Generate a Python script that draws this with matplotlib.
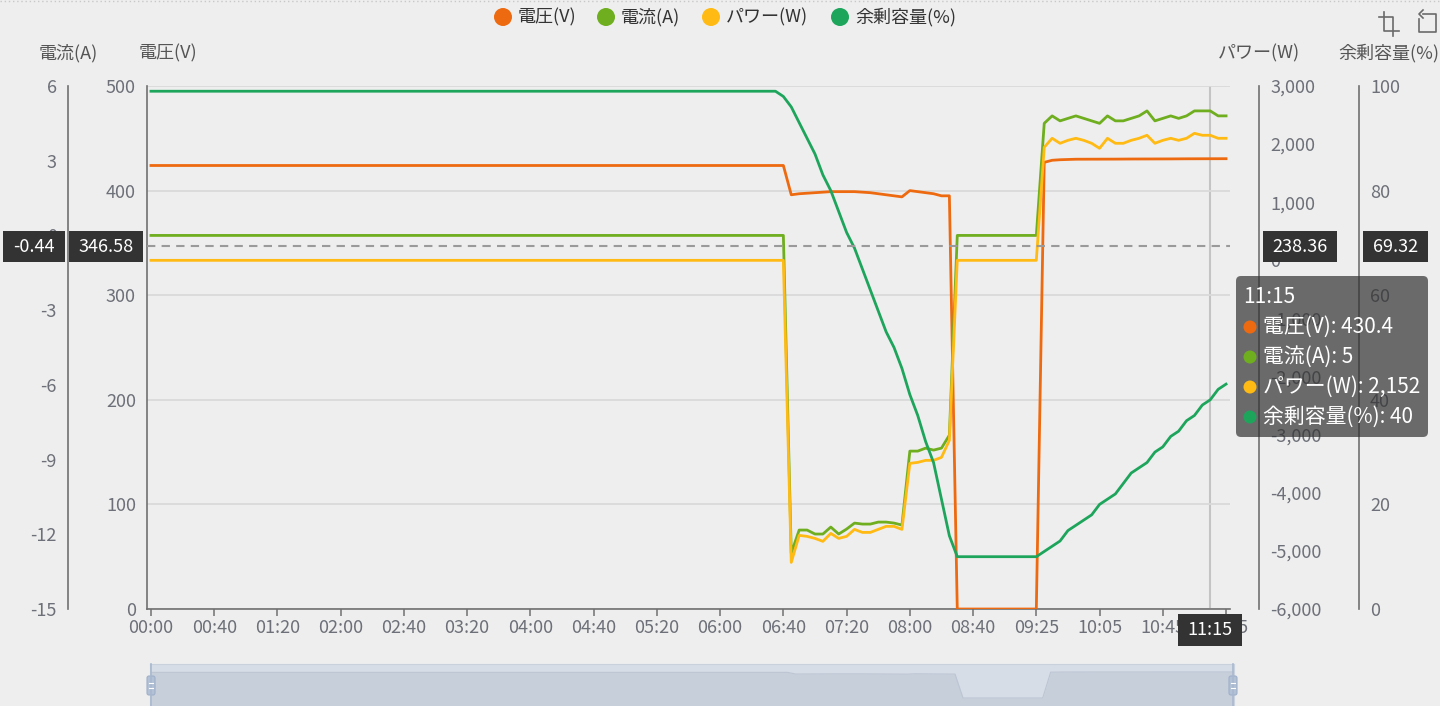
import matplotlib
matplotlib.use("Agg")
import matplotlib.pyplot as plt
from matplotlib.patches import FancyBboxPatch, Rectangle, Circle
import numpy as np

plt.rcParams['font.family'] = ['Noto Sans CJK JP', 'DejaVu Sans']
plt.rcParams['axes.unicode_minus'] = False

# ---------------- data ----------------
# category times (5-minute log, one missing record between 08:40 and 09:25)
minutes = list(range(0, 8 * 60 + 41, 5)) + [525, 530, 535, 540, 545, 550, 560, 565] + list(range(570, 11 * 60 + 26, 5))
times = [f"{m // 60:02d}:{m % 60:02d}" for m in minutes]
tick_labels = ["00:00", "00:40", "01:20", "02:00", "02:40", "03:20", "04:00", "04:40", "05:20",
               "06:00", "06:40", "07:20", "08:00", "08:40", "09:25", "10:05", "10:45", "11:25"]

voltage = ([424.0] * 81 +
           [396, 397, 397.5, 398, 398.5, 399, 399, 399, 399, 398.5, 398, 397, 396, 395, 394,
            400, 399, 398, 397, 395, 395] +
           [0] * 11 +
           [427, 429, 429.5, 429.8, 430, 430, 430, 430.1, 430.1, 430.1, 430.2, 430.2, 430.2,
            430.3, 430.3, 430.3, 430.3, 430.4, 430.4, 430.4, 430.4, 430.4, 430.5, 430.5])

current = ([0.0] * 81 +
           [-12.76, -11.83, -11.83, -11.99, -11.99, -11.71, -11.99, -11.79, -11.55, -11.59, -11.59,
            -11.51, -11.51, -11.55, -11.63, -8.66, -8.66, -8.54, -8.62, -8.54, -8.02] +
           [0.0] * 11 +
           [4.5, 4.8, 4.6, 4.7, 4.8, 4.7, 4.6, 4.5, 4.8, 4.6, 4.6, 4.7, 4.8, 5.0, 4.6, 4.7,
            4.8, 4.7, 4.8, 5.0, 5.0, 5.0, 4.8, 4.8])

power = ([0] * 81 +
         [-5198, -4733, -4750, -4785, -4836, -4699, -4785, -4750, -4630, -4682, -4682,
          -4630, -4578, -4578, -4630, -3494, -3477, -3442, -3442, -3391, -3098] +
         [0] * 11 +
         [1945, 2100, 2014, 2065, 2100, 2065, 2014, 1928, 2100, 2014, 2014, 2065, 2100, 2152,
          2014, 2065, 2100, 2065, 2100, 2186, 2152, 2152, 2100, 2100])

soc = ([99] * 80 +
       [98, 96, 93, 90, 87, 83, 80, 76, 72, 69, 65, 61, 57, 53, 50, 46, 41, 37, 32, 28, 21, 14] +
       [10] * 11 +
       [11, 12, 13, 15, 16, 17, 18, 20, 21, 22, 24, 26, 27, 28, 30, 31, 33, 34, 36, 37, 39, 40, 42, 43])

series_names = ["電圧(V)", "電流(A)", "パワー(W)", "余剰容量(%)"]
colors = ["#ee6a10", "#6fae1f", "#ffba14", "#1ea55c"]

hover_index = 134
pointer_labels = ["-0.44", "346.58", "238.36", "69.32"]
pointer_soc = 69.32

# ---------------- figure ----------------
W, H = 1440, 706
fig = plt.figure(figsize=(W / 100, H / 100), dpi=100)
fig.patch.set_facecolor("#eeeeee")

L, R, T, B = 147, 1230, 86, 609
ax = fig.add_axes([L / W, 1 - B / H, (R - L) / W, (B - T) / H])
ax.set_facecolor("none")
x = np.arange(len(times))
n = len(times)

axis_col = "#707070"
lab_col = "#6e7079"
fs = 13

ax_i = ax.twinx()
ax_p = ax.twinx()
ax_s = ax.twinx()
for a in (ax, ax_i, ax_p, ax_s):
    a.set_xlim(-0.5, n - 0.5)
    for s in a.spines.values():
        s.set_visible(False)
    a.patch.set_visible(False)

# voltage axis (main, left)
ax.set_ylim(0, 500)
ax.set_yticks(range(0, 501, 100))
ax.spines["left"].set_visible(True)
ax.spines["bottom"].set_visible(True)
ax.spines["left"].set_color(axis_col)
ax.spines["bottom"].set_color(axis_col)
ax.spines["left"].set_linewidth(1.2)
ax.spines["bottom"].set_linewidth(1.2)
ax.grid(axis="y", color="#dadada", lw=1.3)
ax.tick_params(axis="y", length=0, pad=8, labelsize=fs, labelcolor=lab_col)
ax.set_xticks(range(0, n, 8))
ax.set_xticklabels(tick_labels)
ax.tick_params(axis="x", length=5, width=1.1, color=axis_col, labelsize=fs, labelcolor=lab_col, pad=2)

# current axis (far left)
ax_i.set_ylim(-15, 6)
ax_i.set_yticks(range(-15, 7, 3))
ax_i.yaxis.set_ticks_position("left")
ax_i.spines["left"].set_visible(True)
ax_i.spines["left"].set_position(("axes", -(L - 68) / (R - L)))
ax_i.spines["left"].set_color(axis_col)
ax_i.spines["left"].set_linewidth(1.2)
ax_i.tick_params(axis="y", length=0, pad=8, labelsize=fs, labelcolor=lab_col)

# power axis (right)
ax_p.set_ylim(-6000, 3000)
ax_p.set_yticks(range(-6000, 3001, 1000))
ax_p.set_yticklabels([f"{v:,}" for v in range(-6000, 3001, 1000)])
ax_p.spines["right"].set_visible(True)
ax_p.spines["right"].set_position(("axes", 1 + (1259 - R) / (R - L)))
ax_p.spines["right"].set_color(axis_col)
ax_p.spines["right"].set_linewidth(1.2)
ax_p.tick_params(axis="y", length=0, pad=8, labelsize=fs, labelcolor=lab_col)

# SOC axis (far right)
ax_s.set_ylim(0, 100)
ax_s.set_yticks(range(0, 101, 20))
ax_s.spines["right"].set_visible(True)
ax_s.spines["right"].set_position(("axes", 1 + (1359 - R) / (R - L)))
ax_s.spines["right"].set_color(axis_col)
ax_s.spines["right"].set_linewidth(1.2)
ax_s.tick_params(axis="y", length=0, pad=8, labelsize=fs, labelcolor=lab_col)

# vertical axis pointer
ax.axvline(hover_index, color="#c4c4c4", lw=1.5, zorder=1)

lw = 2.0
ax.plot(x, voltage, color=colors[0], lw=lw, solid_joinstyle="round", zorder=3)
ax_i.plot(x, current, color=colors[1], lw=lw, solid_joinstyle="round", zorder=3)
ax_p.plot(x, power, color=colors[2], lw=lw, solid_joinstyle="round", zorder=3)
ax_s.plot(x, soc, color=colors[3], lw=lw, solid_joinstyle="round", zorder=3)

# horizontal crosshair
ax_s.axhline(pointer_soc, color="#9a9a9a", lw=1.5, ls=(0, (4, 3)), zorder=5)

# ---------------- data zoom slider ----------------
sax = fig.add_axes([150 / W, 0, 1084 / W, 42 / H])
sax.set_xlim(0, n - 1)
sax.set_ylim(-132, 562)
sax.set_facecolor("#d7dde7")
sax.fill_between(x, voltage, -132, color="#c7cfdb", lw=0)
sax.plot(x, voltage, color="#bcc5d3", lw=0.8)
for s in sax.spines.values():
    s.set_color("#c9d1dd")
sax.set_xticks([])
sax.set_yticks([])

# ---------------- overlay (pixel coordinates) ----------------
ov = fig.add_axes([0, 0, 1, 1])
ov.set_xlim(0, W)
ov.set_ylim(H, 0)
ov.axis("off")
ov.set_zorder(20)
ov.patch.set_visible(False)

# top dotted border
ov.plot([0, W], [1, 1], color="#c8c8c8", lw=1, ls=(0, (1, 2)))

# legend
leg_x = [503, 606, 711, 840]
for cx, name, c in zip(leg_x, series_names, colors):
    ov.add_patch(Circle((cx, 17), 9, color=c, lw=0))
    ov.text(cx + 15, 17, name, fontsize=fs, color="#333333", va="center", ha="left")

# axis names
name_col = "#555555"
ov.text(68, 53, "電流(A)", fontsize=fs, color=name_col, ha="center", va="center")
ov.text(168, 53, "電圧(V)", fontsize=fs, color=name_col, ha="center", va="center")
ov.text(1259, 53, "パワー(W)", fontsize=fs, color=name_col, ha="center", va="center")
ov.text(1439, 53, "余剰容量(%)", fontsize=fs, color=name_col, ha="right", va="center")

# toolbox icons
ic = "#6a6a6a"
ov.plot([1384, 1384, 1399], [12, 31, 31], color=ic, lw=1.2)
ov.plot([1379, 1393, 1393], [17, 17, 36], color=ic, lw=1.2)
ov.plot([1423, 1436, 1436, 1419, 1419], [14, 14, 32, 32, 19], color=ic, lw=1.2)
ov.plot([1423, 1419, 1423], [10, 14, 18], color=ic, lw=1.2)

# axis pointer label boxes
def dark_box(x0, y0, x1, y1, txt):
    ov.add_patch(Rectangle((x0, y0), x1 - x0, y1 - y0, color="#333333", lw=0))
    ov.text((x0 + x1) / 2, (y0 + y1) / 2, txt, color="white", fontsize=fs, ha="center", va="center")

dark_box(3, 231, 65, 262, pointer_labels[0])
dark_box(69, 231, 143, 262, pointer_labels[1])
dark_box(1263, 231, 1337, 262, pointer_labels[2])
dark_box(1363, 231, 1428, 262, pointer_labels[3])
dark_box(1178, 614, 1242, 646, times[hover_index])

# slider handles
for hx in (151, 1233):
    ov.plot([hx, hx], [664, 706], color="#a9b8cf", lw=1.2)
    ov.add_patch(FancyBboxPatch((hx - 4, 676), 8, 19, boxstyle="round,pad=0,rounding_size=2",
                                facecolor="#b3c1d6", edgecolor="#9fb0c9", lw=0.8))
    ov.plot([hx - 2, hx + 2], [683, 683], color="white", lw=0.8)
    ov.plot([hx - 2, hx + 2], [688, 688], color="white", lw=0.8)

# tooltip
ov.add_patch(FancyBboxPatch((1236, 276), 192, 161, boxstyle="round,pad=0,rounding_size=5",
                            facecolor=(50 / 255, 50 / 255, 50 / 255, 0.7), edgecolor="none"))
tfs = 15
ov.text(1243, 297, times[hover_index], color="white", fontsize=tfs, ha="left", va="center")
vals = [f"{voltage[hover_index]:g}", f"{current[hover_index]:g}", f"{power[hover_index]:,}", f"{soc[hover_index]}"]
for k, (name, c, v) in enumerate(zip(series_names, colors, vals)):
    yy = 327 + 30 * k
    ov.add_patch(Circle((1250, yy), 6.5, color=c, lw=0))
    ov.text(1263, yy, f"{name}: {v}", color="white", fontsize=tfs, ha="left", va="center")

fig.savefig("out.png", dpi=100, facecolor=fig.get_facecolor())
